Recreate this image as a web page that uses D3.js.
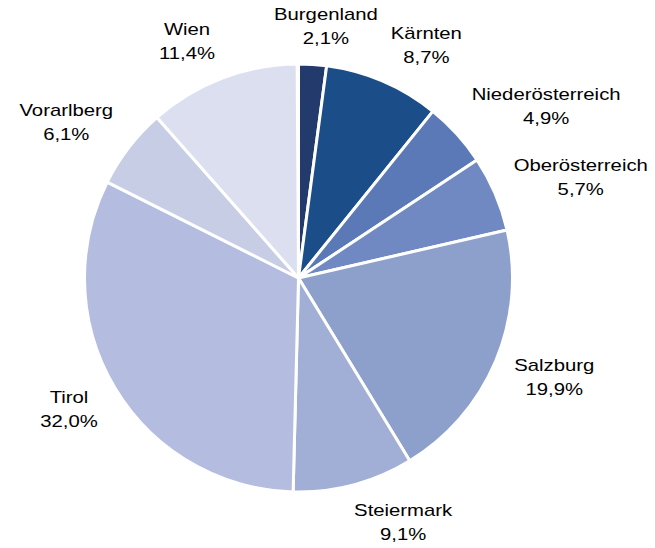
<!DOCTYPE html>
<html><head><meta charset="utf-8">
<script src="https://cdn.jsdelivr.net/npm/d3@7"></script>
<style>body{margin:0;background:#fff}svg{display:block}text{font-family:"Liberation Sans",Arial,sans-serif;font-size:16px;fill:#000}</style>
</head><body>
<svg id="c" width="655" height="548"></svg>
<script>
const categories = ["Burgenland","Kärnten","Niederösterreich","Oberösterreich","Salzburg","Steiermark","Tirol","Vorarlberg","Wien"];
const values = [2.1, 8.7, 4.9, 5.7, 19.9, 9.1, 32.0, 6.1, 11.4];
const valueLabels = ["2,1%","8,7%","4,9%","5,7%","19,9%","9,1%","32,0%","6,1%","11,4%"];
const colors = ["#223a6c","#1b4d88","#5b79b7","#7189c3","#8d9fcb","#a1aed5","#b4bddf","#c8cde6","#dcdfef"];

const svg = d3.select("#c");
const cx = 298.5, cy = 278, r = 214;
const g = svg.append("g").attr("transform", `translate(${cx},${cy})`);
const total = 100;
const pie = d3.pie().sort(null).value(d => d.v).startAngle(0).endAngle(2*Math.PI*d3.sum(values)/total);
const data = categories.map((c,i) => ({c, v: values[i], l: valueLabels[i], col: colors[i]}));
const arcs = pie(data);
const arc = d3.arc().innerRadius(0).outerRadius(r);
g.selectAll("path").data(arcs).join("path")
  .attr("d", arc).attr("fill", d => d.data.col)
  .attr("stroke", "#fff").attr("stroke-width", 3).attr("stroke-linejoin","round");

const sx = 1.27, lr = r + 20, h = 36;
const clamp = v => Math.max(-1, Math.min(1, v));
arcs.forEach(d => {
  const a = (d.startAngle + d.endAngle) / 2;
  const s = Math.sin(a), c = Math.cos(a);
  const px = lr * s, py = -lr * c;
  const t = g.append("text").attr("text-anchor", "middle");
  const t1 = t.append("tspan").attr("x", 0).attr("y", -6.4).text(d.data.c);
  const t2 = t.append("tspan").attr("x", 0).attr("y", 17.6).text(d.data.l);
  const w = sx * Math.max(t1.node().getComputedTextLength(), t2.node().getComputedTextLength());
  const mx = px + (w/2) * clamp(s * 3.5);
  const my = py - (h/2) * clamp(c * 1.2);
  t.attr("transform", `translate(${mx},${my}) scale(${sx},1)`);
});
</script>
</body></html>
